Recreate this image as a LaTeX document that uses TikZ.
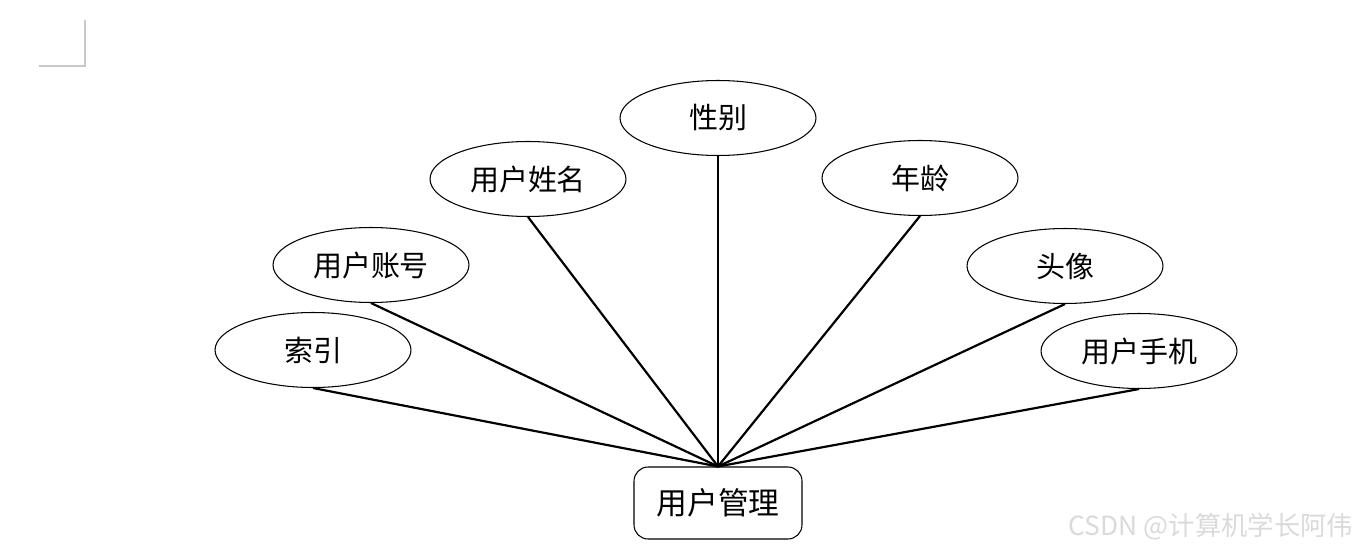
\documentclass[tikz,border=0pt]{standalone}
\usepackage{fontspec}
\newfontfamily\cjk{Noto Sans CJK SC}
\usepackage{tikz}
\usetikzlibrary{shapes.geometric}
\definecolor{MarkGray}{HTML}{C8C8C8}
\definecolor{MarkText}{HTML}{DADADA}

\begin{document}
\begin{tikzpicture}[
  x=0.02cm, y=-0.02cm,
  attr/.style={draw, ellipse, line width=0.6pt, minimum width=3.92cm,
               minimum height=1.5cm, inner sep=0pt, font=\cjk\fontsize{16.5}{18}\selectfont},
  entity/.style={draw, rounded corners=8pt, line width=0.6pt, minimum width=3.36cm,
               minimum height=1.44cm, font=\cjk\fontsize{17.5}{20}\selectfont},
  link/.style={line width=1.25pt}
]
\useasboundingbox (0,0) rectangle (1359,551);
% corner mark
\draw[MarkGray, line width=0.6pt] (39,66) -- (85,66) -- (85,20);
% entity
\node[entity] (mgr) at (718,503) {用户管理};
% attributes
\node[attr] (idx) at (313,350) {索引};
\node[attr] (acct) at (371,265) {用户账号};
\node[attr] (uname) at (528,179) {用户姓名};
\node[attr] (sex) at (718,118) {性别};
\node[attr] (age) at (920,178) {年龄};
\node[attr] (avatar) at (1065,266) {头像};
\node[attr] (phone) at (1139,351) {用户手机};
% links
\foreach \a in {idx,acct,uname,sex,age,avatar,phone}
  \draw[link] (\a.south) -- (mgr.north);
% watermark
\node[MarkText, font=\cjk\fontsize{15}{16}\selectfont] (wm) at (1211,527) {CSDN @计算机学长阿伟};
\end{tikzpicture}
\end{document}
